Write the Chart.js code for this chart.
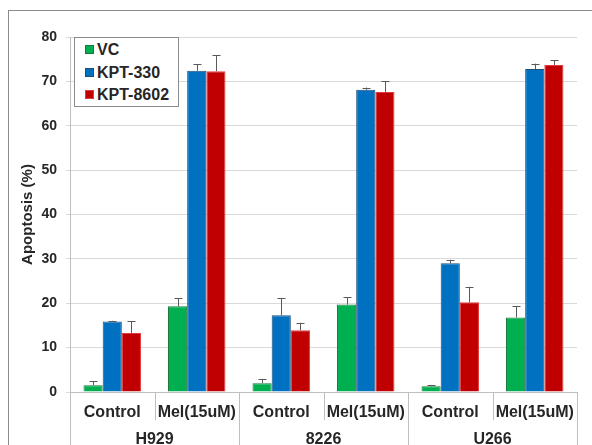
<!DOCTYPE html>
<html>
<head>
<meta charset="utf-8">
<script src="https://cdn.jsdelivr.net/npm/chart.js@4"></script>
<style>
  html, body { margin:0; padding:0; background:#fff; overflow:hidden; }
  #wrap { position:relative; width:592px; height:445px; }
  #frame { position:absolute; left:8px; top:10px; width:700px; height:600px;
           border-left:1px solid #8c8c8c; border-top:1px solid #8c8c8c; pointer-events:none; }
  canvas { position:absolute; left:0; top:0; }
  #legend { position:absolute; left:74px; top:37px; width:103px; height:68px;
            border:1px solid #8c8c8c; background:#fff;
            font:bold 16px "Liberation Sans", Arial, sans-serif; color:#262626; }
  #legend .it { position:absolute; left:10px; height:20px; line-height:20px; white-space:nowrap; }
  #legend .sw { display:inline-block; width:7px; height:7px; margin-right:3px; vertical-align:1px; }
</style>
</head>
<body>
<div id="wrap">
  <canvas id="c" width="592" height="445"></canvas>
  <div id="frame"></div>
  <div id="legend"></div>
</div>
<script>
const categories = ["Control", "Mel(15uM)", "Control", "Mel(15uM)", "Control", "Mel(15uM)"];
const groups = ["H929", "8226", "U266"];
const seriesNames = ["VC", "KPT-330", "KPT-8602"];
const vc      = [1.5, 19.3, 2.0, 19.7, 1.3, 16.8];
const vcErr   = [1.0, 1.8, 0.9, 1.7, 0.3, 2.5];
const kpt330    = [15.9, 72.4, 17.3, 68.1, 29.0, 72.8];
const kpt330Err = [0.15, 1.5, 3.9, 0.5, 0.8, 1.2];
const kpt8602    = [13.3, 72.3, 13.9, 67.6, 20.2, 73.7];
const kpt8602Err = [2.6, 3.6, 1.7, 2.4, 3.5, 1.1];
const yTicks = [0, 10, 20, 30, 40, 50, 60, 70, 80];

const colors = ["#00B050", "#0070C0", "#C00000"];
const borders = ["#17793a", "#1f4e79", "#e23a3a"];
const values = [vc, kpt330, kpt8602];
const errors = [vcErr, kpt330Err, kpt8602Err];
const FONT = '"Liberation Sans", Arial, sans-serif';
const TXT = '#262626';

const errorBars = {
  id: 'errorBars',
  afterDatasetsDraw(chart) {
    const ctx = chart.ctx, y = chart.scales.y;
    ctx.save();
    ctx.strokeStyle = '#595959';
    ctx.lineWidth = 1;
    chart.data.datasets.forEach((ds, di) => {
      const meta = chart.getDatasetMeta(di);
      meta.data.forEach((bar, i) => {
        const top = y.getPixelForValue(ds.data[i] + ds.errors[i]);
        const x = Math.round(bar.x) + 0.5;
        ctx.beginPath();
        ctx.moveTo(x, bar.y);
        ctx.lineTo(x, top);
        ctx.moveTo(x - 4, Math.round(top) + 0.5);
        ctx.lineTo(x + 4, Math.round(top) + 0.5);
        ctx.stroke();
      });
    });
    ctx.restore();
  }
};

const separators = {
  id: 'separators',
  afterDraw(chart) {
    const ctx = chart.ctx, x = chart.scales.x, x2 = chart.scales.x2;
    ctx.save();
    ctx.strokeStyle = '#bfbfbf';
    ctx.lineWidth = 1;
    for (let i = 0; i <= categories.length; i++) {
      const px = Math.round(x.getPixelForValue(i - 0.5)) + 0.5;
      const bottom = (i % 2 === 0) ? chart.height : x2.top;
      ctx.beginPath();
      ctx.moveTo(px, chart.chartArea.bottom);
      ctx.lineTo(px, bottom);
      ctx.stroke();
    }
    ctx.restore();
  }
};

new Chart(document.getElementById('c'), {
  type: 'bar',
  data: {
    labels: categories,
    datasets: seriesNames.map((n, k) => ({
      label: n,
      data: values[k],
      errors: errors[k],
      backgroundColor: colors[k],
      borderColor: borders[k],
      borderWidth: 1,
      categoryPercentage: 0.68,
      barPercentage: 1.0
    }))
  },
  options: {
    responsive: false,
    animation: false,
    events: [],
    layout: { padding: { top: 37, right: 15, left: 0, bottom: 0 } },
    plugins: { legend: { display: false }, tooltip: { enabled: false } },
    scales: {
      x: {
        type: 'category',
        position: 'bottom',
        weight: 0,
        afterFit(s) { s.height = 28; },
        grid: { display: false, drawTicks: false, tickLength: 0 },
        border: { display: true, color: '#bfbfbf' },
        ticks: { color: TXT, font: { family: FONT, size: 16, weight: 'bold' }, padding: 11, maxRotation: 0, autoSkip: false }
      },
      x2: {
        type: 'category',
        position: 'bottom',
        weight: 1,
        labels: groups,
        offset: true,
        afterFit(s) { s.height = 25; },
        grid: { display: false, drawTicks: false, tickLength: 0 },
        border: { display: false },
        ticks: { color: TXT, font: { family: FONT, size: 16, weight: 'bold' }, padding: 10, maxRotation: 0, autoSkip: false }
      },
      y: {
        min: 0, max: 80,
        afterFit(s) { s.width = 70; },
        afterBuildTicks(s) { s.ticks = yTicks.map(v => ({ value: v })); },
        grid: { color: '#d9d9d9', tickLength: 4, tickColor: '#d9d9d9' },
        border: { display: true, color: '#bfbfbf' },
        ticks: { color: TXT, font: { family: FONT, size: 14, weight: 'bold' }, padding: 9 },
        title: { display: true, text: 'Apoptosis (%)', color: TXT,
                 font: { family: FONT, size: 15, weight: 'bold' }, padding: { top: 19, bottom: 0 } }
      }
    }
  },
  plugins: [errorBars, separators]
});

const lg = document.getElementById('legend');
seriesNames.forEach((n, k) => {
  const d = document.createElement('div');
  d.className = 'it';
  d.style.top = (2 + k * 22.5) + 'px';
  d.innerHTML = '<span class="sw" style="background:' + colors[k] + ';border:0.5px solid ' + borders[k] + '"></span>' + n;
  lg.appendChild(d);
});
</script>
</body>
</html>
